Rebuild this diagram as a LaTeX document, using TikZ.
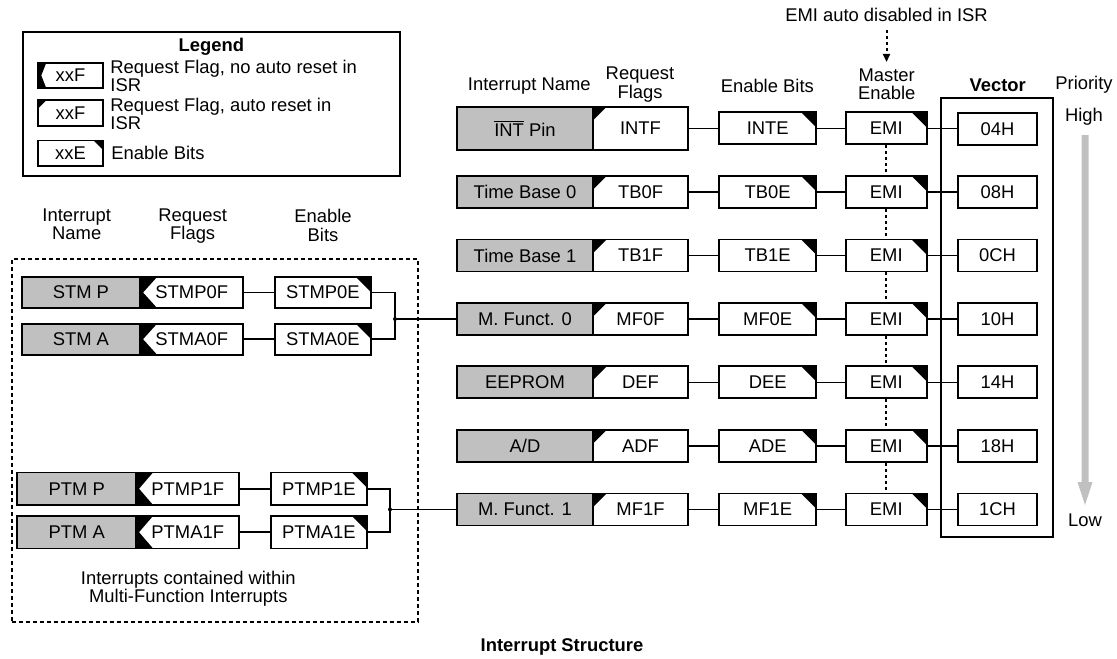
\documentclass[tikz,border=0pt]{standalone}
\usepackage{fontspec}
\setmainfont{Liberation Sans}
\usetikzlibrary{arrows.meta}
\definecolor{boxgray}{RGB}{192,192,192}
\definecolor{arrowgray}{RGB}{192,192,192}
\newcommand\dfont{\fontsize{9.2}{9.2}\selectfont}
\begin{document}
\begin{tikzpicture}[x=0.5pt,y=-0.5pt,
  box/.style={draw, line width=0.9pt, inner sep=0pt, font=\dfont, minimum height=16pt},
  gname/.style={box, fill=boxgray},
  flg/.style={box, fill=white},
  flagauto/.style={flg, path picture={\fill[black] (path picture bounding box.north west) -- ++(#1,0) -- ([yshift=-#1]path picture bounding box.north west) -- cycle;}},
  flagauto/.default=7pt,
  flagno/.style={flg, path picture={\fill[black] (path picture bounding box.north west) -- ++(#1,0) -- ([xshift=1.5pt]path picture bounding box.west) -- ([xshift=#1]path picture bounding box.south west) -- (path picture bounding box.south west) -- cycle;}},
  flagno/.default=8.5pt,
  enab/.style={flg, path picture={\fill[black] (path picture bounding box.north east) -- ++(-#1,0) -- ([yshift=-#1]path picture bounding box.north east) -- cycle;}},
  enab/.default=7.5pt,
  rg/.style={gname, minimum width=67.7pt},
  rf/.style={flagauto, minimum width=47.8pt},
  re/.style={enab, minimum width=48.35pt},
  rm/.style={enab, minimum width=40.35pt},
  rv/.style={flg, minimum width=39.8pt},
  lbl/.style={font=\dfont, inner sep=0pt, align=center},
  conn/.style={line width=0.8pt},
  dotl/.style={line width=1pt, dash pattern=on 1.5pt off 1.5pt},
]
\useasboundingbox (0,0) rectangle (1117,658);

% ---------- Legend ----------
\node[draw, line width=0.9pt, minimum width=188.65pt, minimum height=72pt, inner sep=0pt] (legendbox) at (211.35,104) {};
\node[lbl, font=\dfont\bfseries] (legendtitle) at (211.35,46.7) {Legend};
\node[flagno=4pt, minimum width=32.2pt, minimum height=12.8pt] (lg1) at (70.5,75.5) {xxF};
\node[flagauto=4pt, minimum width=32.2pt, minimum height=12.8pt] (lg2) at (70.5,113) {xxF};
\node[enab=4.5pt, minimum width=32.2pt, minimum height=12.8pt] (lg3) at (70.5,153.3) {xxE};
\node[lbl, align=left, anchor=west] (lt1) at (110,75.8) {Request Flag, no auto reset in\\ISR};
\node[lbl, align=left, anchor=west] (lt2) at (110,114) {Request Flag, auto reset in\\ISR};
\node[lbl, align=left, anchor=west] (lt3) at (111,153) {Enable Bits};

% ---------- Left headers ----------
\node[lbl] (lh1) at (76.7,224) {Interrupt\\Name};
\node[lbl] (lh2) at (192.7,226) {Request\\Flags};
\node[lbl] (lh3) at (323,225.5) {Enable\\Bits};

% dotted multi-function box
\node[draw, line width=1pt, dash pattern=on 2pt off 1.5pt, minimum width=203.15pt, minimum height=181.2pt, inner sep=0pt] (mfbox) at (214.85,440.5) {};
\node[lbl] (mftext) at (188.3,588.5) {Interrupts contained within\\Multi-Function Interrupts};

% STM group
\node[gname, minimum width=59.15pt, minimum height=15.5pt] (stmpg) at (80.9,292.5) {STM P};
\node[flagno, minimum width=51.65pt, minimum height=15.5pt] (stmpf) at (191.7,292.5) {STMP0F};
\node[enab, minimum width=47.85pt, minimum height=15.5pt] (stmpe) at (322.9,292.5) {STMP0E};
\node[gname, minimum width=59.15pt, minimum height=15.5pt] (stmag) at (80.9,339.2) {STM A};
\node[flagno, minimum width=51.65pt, minimum height=15.5pt] (stmaf) at (191.7,339.2) {STMA0F};
\node[enab, minimum width=47.85pt, minimum height=15.5pt] (stmae) at (322.9,339.2) {STMA0E};

% PTM group
\node[gname, minimum width=59.35pt, minimum height=16.3pt] (ptmpg) at (76.7,488.7) {PTM P};
\node[flagno, minimum width=51.65pt, minimum height=16.3pt] (ptmpf) at (187.7,488.7) {PTMP1F};
\node[enab, minimum width=47.85pt, minimum height=16.3pt] (ptmpe) at (318.9,488.7) {PTMP1E};
\node[gname, minimum width=59.35pt, minimum height=16.3pt] (ptmag) at (76.7,532.2) {PTM A};
\node[flagno, minimum width=51.65pt, minimum height=16.3pt] (ptmaf) at (187.7,532.2) {PTMA1F};
\node[enab, minimum width=47.85pt, minimum height=16.3pt] (ptmae) at (318.9,532.2) {PTMA1E};

\draw[conn] (stmpf) -- (stmpe);
\draw[conn] (stmaf) -- (stmae);
\draw[conn] (ptmpf) -- (ptmpe);
\draw[conn] (ptmaf) -- (ptmae);

% ---------- Right headers ----------
\node[lbl] (emitxt) at (886.5,15) {EMI auto disabled in ISR};
\coordinate (emiarrow) at (886.5,62);
\draw[dotl, -{Triangle[length=4pt,width=3.5pt]}] (emitxt.south) ++(0,8) -- (emiarrow);
\node[lbl] (rh1) at (529.3,86) {Interrupt Name};
\node[lbl] (rh2) at (640,84.5) {Request\\Flags};
\node[lbl] (rh3) at (767.3,86) {Enable Bits};
\node[lbl] (rh4) at (886.7,84) {Master\\Enable};
\node[lbl, font=\dfont\bfseries] (rh5) at (997.7,85) {Vector};
\node[lbl] (rh6) at (1084,85) {Priority};
\node[lbl] (high) at (1084,116.7) {High};
\node[lbl] (low) at (1085,520) {Low};

% vector outer box
\node[draw, line width=0.9pt, minimum width=56.15pt, minimum height=219.8pt, inner sep=0pt] (vecbox) at (997.15,317.5) {};

% priority arrow
\fill[arrowgray] (1081.5,135) -- (1088.5,135) -- (1088.5,482) -- (1092.5,482) -- (1085,505) -- (1077.5,482) -- (1081.5,482) -- cycle;

% ---------- Rows ----------
% row 0
\node[rg, minimum height=21.65pt] (g0) at (525,128.3) {$\overline{\mbox{INT}}$ Pin};
\node[rf, minimum height=21.65pt] (f0) at (640.5,128.3) {INTF};
\node[re] (e0) at (767.7,128.3) {INTE};
\node[rm] (m0) at (886.3,128.3) {EMI};
\node[rv] (v0) at (997.5,128.8) {04H};
% row 1
\node[rg] (g1) at (525,192) {Time Base 0};
\node[rf] (f1) at (640.5,192) {TB0F};
\node[re] (e1) at (767.7,192) {TB0E};
\node[rm] (m1) at (886.3,192) {EMI};
\node[rv] (v1) at (997.5,192) {08H};
% row 2
\node[rg] (g2) at (525,255.5) {Time Base 1};
\node[rf] (f2) at (640.5,255.5) {TB1F};
\node[re] (e2) at (767.7,255.5) {TB1E};
\node[rm] (m2) at (886.3,255.5) {EMI};
\node[rv] (v2) at (997.5,255.5) {0CH};
% row 3
\node[rg] (g3) at (525,319) {M. Funct. 0};
\node[rf] (f3) at (640.5,319) {MF0F};
\node[re] (e3) at (767.7,319) {MF0E};
\node[rm] (m3) at (886.3,319) {EMI};
\node[rv] (v3) at (997.5,319) {10H};
% row 4
\node[rg] (g4) at (525,382.3) {EEPROM};
\node[rf] (f4) at (640.5,382.3) {DEF};
\node[re] (e4) at (767.7,382.3) {DEE};
\node[rm] (m4) at (886.3,382.3) {EMI};
\node[rv] (v4) at (997.5,382.3) {14H};
% row 5
\node[rg] (g5) at (525,445.8) {A/D};
\node[rf] (f5) at (640.5,445.8) {ADF};
\node[re] (e5) at (767.7,445.8) {ADE};
\node[rm] (m5) at (886.3,445.8) {EMI};
\node[rv] (v5) at (997.5,445.8) {18H};
% row 6
\node[rg] (g6) at (525,509.4) {M. Funct. 1};
\node[rf] (f6) at (640.5,509.4) {MF1F};
\node[re] (e6) at (767.7,509.4) {MF1E};
\node[rm] (m6) at (886.3,509.4) {EMI};
\node[rv] (v6) at (997.5,509.4) {1CH};

\foreach \i in {0,...,6} {
  \draw[conn] (f\i) -- (e\i);
  \draw[conn] (e\i) -- (m\i);
  \draw[conn] (m\i.east) -- (v\i.west |- m\i.east);
}
\foreach \i/\j in {0/1,1/2,2/3,3/4,4/5,5/6} {
  \draw[dotl] (m\i.south) -- (m\j.north);
}

% junctions from multi-function groups
\coordinate (jS) at (395,319);
\coordinate (jP) at (390,509.4);
\draw[conn] (stmpe.east) -| (jS) |- (stmae.east);
\draw[conn] (jS) -- (g3.west);
\fill (jS) circle (1pt);
\draw[conn] (ptmpe.east) -| (jP) |- (ptmae.east);
\draw[conn] (jP) -- (g6.west);
\fill (jP) circle (1pt);

% caption
\node[lbl, font=\dfont\bfseries] (caption) at (562,647) {Interrupt Structure};
\end{tikzpicture}
\end{document}
